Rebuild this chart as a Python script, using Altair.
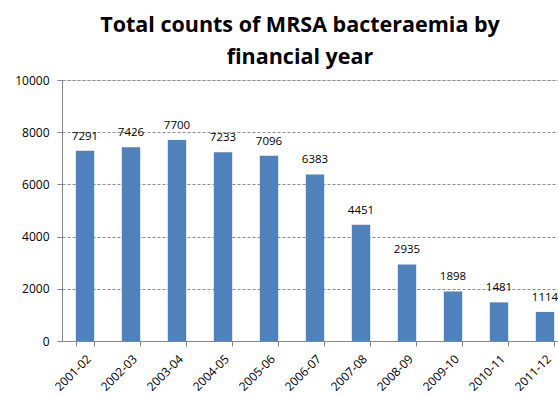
import altair as alt
import pandas as pd

# MRSA bacteraemia counts per financial year
years = ["2001-02", "2002-03", "2003-04", "2004-05", "2005-06", "2006-07",
         "2007-08", "2008-09", "2009-10", "2010-11", "2011-12"]
counts = [7291, 7426, 7700, 7233, 7096, 6383, 4451, 2935, 1898, 1481, 1114]

df = pd.DataFrame({"year": years, "count": counts})

FONT = "Open Sans"
BLUE = "#4F81BD"

x = alt.X(
    "year:N",
    sort=years,
    title=None,
    scale=alt.Scale(range=[0, 506], paddingInner=0.6, paddingOuter=0.3),
    axis=alt.Axis(
        labelAngle=-45,
        labelFont=FONT,
        labelFontSize=12,
        labelColor="#000000",
        labelPadding=7,
        tickBand="extent",
        tickSize=5,
        tickColor="#868686",
        domainColor="#868686",
        grid=False,
    ),
)

y = alt.Y(
    "count:Q",
    title=None,
    scale=alt.Scale(domain=[0, 10000], nice=False),
    axis=alt.Axis(
        values=[0, 2000, 4000, 6000, 8000, 10000],
        format="d",
        labelFont=FONT,
        labelFontSize=12,
        labelColor="#000000",
        labelPadding=8,
        tickSize=5,
        tickColor="#868686",
        domainColor="#868686",
        grid=True,
        gridColor="#8c8c8c",
        gridDash=[3, 2],
        gridWidth=1,
    ),
)

bars = alt.Chart(df).mark_bar(color=BLUE).encode(x=x, y=y)

labels = alt.Chart(df).mark_text(
    font=FONT, fontSize=11.5, color="#000000", baseline="bottom", dy=-9
).encode(x=alt.X("year:N", sort=years), y="count:Q", text="count:Q")

chart = (
    alt.layer(bars, labels)
    .properties(
        width=496,
        height=261,
        autosize=alt.AutoSizeParams(type="none"),
        padding={"left": 62, "top": 80, "right": 0, "bottom": 53},
        title=alt.Title(
            ["Total counts of MRSA bacteraemia by", "financial year"],
            font=FONT,
            fontSize=21.5,
            fontWeight="bold",
            color="#000000",
            anchor="middle",
            dx=-10,
            offset=6,
            lineHeight=32,
        ),
    )
    .configure_view(stroke=None)
    .configure(background="#ffffff")
)

chart.save("out.html", embed_options={"renderer": "svg", "actions": False})
